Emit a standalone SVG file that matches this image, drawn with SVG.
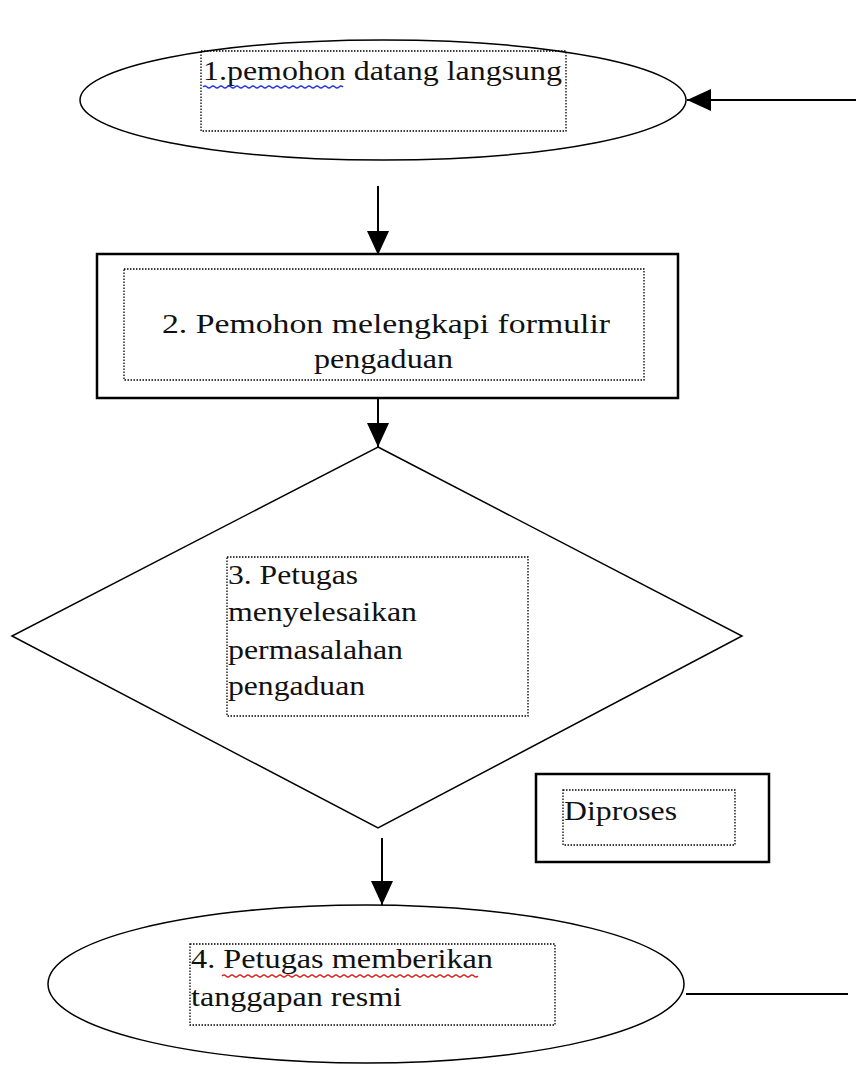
<svg xmlns="http://www.w3.org/2000/svg" width="856" height="1068" viewBox="0 0 856 1068">
<defs>
<style>
.shape{fill:#fff;stroke:#000;stroke-width:1.5}
.box{fill:#fff;stroke:#000;stroke-width:2.5}
.dot{fill:none;stroke:#000;stroke-width:1.3;stroke-dasharray:1.5 1.5}
.t{font-family:"Liberation Serif","Times New Roman",serif;font-size:28px;fill:#111}
.ln{stroke:#000;stroke-width:2;fill:none}
.wb{fill:none;stroke:#2233ee;stroke-width:1.3}
.wr{fill:none;stroke:#e02020;stroke-width:1.3}
</style>
<marker id="ahb" viewBox="0 0 24 24" refX="24" refY="12" markerWidth="24" markerHeight="24" orient="auto" markerUnits="userSpaceOnUse">
<path d="M0,1 L24,12 L0,23 Z" fill="#000"/>
</marker>
</defs>
<g id="connectors">
<line class="ln" x1="856" y1="100" x2="687" y2="100" marker-end="url(#ahb)"/>
<line class="ln" x1="378" y1="186" x2="378" y2="255" marker-end="url(#ahb)"/>
<line class="ln" x1="378" y1="381" x2="378" y2="447" marker-end="url(#ahb)"/>
<line class="ln" x1="382" y1="838" x2="382" y2="905" marker-end="url(#ahb)"/>
<line class="ln" x1="686" y1="994" x2="848" y2="994"/>
</g>
<g id="node1">
<ellipse class="shape" cx="383" cy="100" rx="303" ry="60"/>
<rect class="dot" x="201" y="51" width="365" height="80"/>
<text class="t" x="203" y="80" textLength="359" lengthAdjust="spacingAndGlyphs">1.pemohon datang langsung</text>
<path class="wb" d="M203,87 q2,-2 4,0 t4,0 t4,0 t4,0 t4,0 t4,0 t4,0 t4,0 t4,0 t4,0 t4,0 t4,0 t4,0 t4,0 t4,0 t4,0 t4,0 t4,0 t4,0 t4,0 t4,0 t4,0 t4,0 t4,0 t4,0 t4,0 t4,0 t4,0 t4,0 t4,0 t4,0 t4,0 t4,0 t4,0 t4,0"/>
</g>
<g id="node2">
<rect class="box" x="97" y="254" width="581" height="144"/>
<rect class="dot" x="124" y="269" width="520" height="111"/>
<text class="t" x="162" y="333" textLength="448" lengthAdjust="spacingAndGlyphs">2. Pemohon melengkapi formulir</text>
<text class="t" x="314" y="368" textLength="139" lengthAdjust="spacingAndGlyphs">pengaduan</text>
</g>
<g id="node3">
<polygon class="shape" points="378,447 742,636 378,828 12,636"/>
<rect class="dot" x="227" y="557" width="301" height="159"/>
<text class="t" x="228" y="584" textLength="130" lengthAdjust="spacingAndGlyphs">3. Petugas</text>
<text class="t" x="228" y="621" textLength="189" lengthAdjust="spacingAndGlyphs">menyelesaikan</text>
<text class="t" x="228" y="659" textLength="175" lengthAdjust="spacingAndGlyphs">permasalahan</text>
<text class="t" x="228" y="695" textLength="137" lengthAdjust="spacingAndGlyphs">pengaduan</text>
</g>
<g id="node-diproses">
<rect class="box" x="536" y="774" width="233" height="88"/>
<rect class="dot" x="563" y="790" width="172" height="55"/>
<text class="t" x="564" y="820" textLength="113" lengthAdjust="spacingAndGlyphs">Diproses</text>
</g>
<g id="node4">
<ellipse class="shape" cx="366" cy="984" rx="318" ry="79"/>
<rect class="dot" x="190" y="944" width="365" height="81"/>
<text class="t" x="191" y="968" textLength="302" lengthAdjust="spacingAndGlyphs">4. Petugas memberikan</text>
<path class="wr" d="M222,976 q2,-2 4,0 t4,0 t4,0 t4,0 t4,0 t4,0 t4,0 t4,0 t4,0 t4,0 t4,0 t4,0 t4,0 t4,0 t4,0 t4,0 t4,0 t4,0 t4,0 t4,0 t4,0 t4,0 t4,0 t4,0 t4,0 t4,0 t4,0 t4,0 t4,0 t4,0 t4,0 t4,0 t4,0 t4,0 t4,0 t4,0 t4,0 t4,0 t4,0 t4,0 t4,0 t4,0 t4,0 t4,0 t4,0 t4,0 t4,0 t4,0 t4,0 t4,0 t4,0 t4,0 t4,0 t4,0 t4,0 t4,0 t4,0 t4,0 t4,0 t4,0 t4,0 t4,0 t4,0 t4,0"/>
<text class="t" x="191" y="1006" textLength="211" lengthAdjust="spacingAndGlyphs">tanggapan resmi</text>
</g>
</svg>
